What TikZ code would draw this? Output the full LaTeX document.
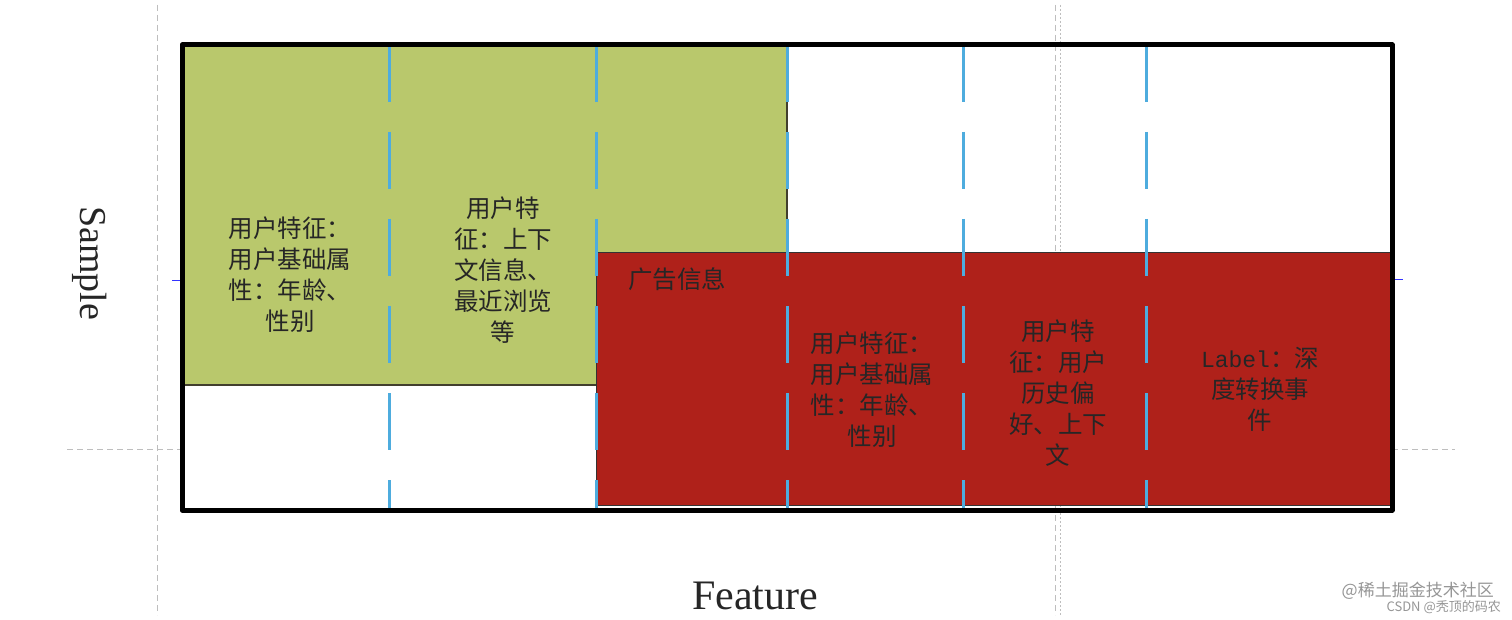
\documentclass[tikz,border=0pt]{standalone}
\usepackage{fontspec}
\setmainfont{Liberation Serif}
\setmonofont{Liberation Mono}
\newfontfamily\cjk{Noto Sans CJK SC}
\definecolor{cellgreen}{RGB}{185,200,108}
\definecolor{cellred}{RGB}{175,33,26}
\definecolor{dashblue}{RGB}{78,172,222}
\definecolor{guidegray}{RGB}{190,190,190}
\definecolor{wmgray}{RGB}{150,150,150}
\begin{document}
\begin{tikzpicture}[x=1pt,y=-1pt,
  celltext/.style={align=center,font=\cjk\fontsize{24.5}{31}\selectfont,text=black!85,inner sep=0pt},
  bluedash/.style={dashblue,line width=3pt,dash pattern=on 57pt off 30pt},
  guide/.style={guidegray,line width=0.8pt,dash pattern=on 6pt off 4pt},
  axistext/.style={text=black!85}]
\useasboundingbox (0,0) rectangle (1512,620);
\fill[white] (0,0) rectangle (1512,620);
% guides
\draw[guide] (157,5) -- (157,615);
\draw[guide] (1055,5) -- (1055,615);
\draw[guidegray,line width=0.8pt,dash pattern=on 2pt off 2pt] (1060,5) -- (1060,615);
\draw[guide] (67,449) -- (182,449);
\draw[guide] (1392,449) -- (1455,449);
\draw[blue!80,line width=0.8pt] (172,280) -- (182,280);
\draw[blue!80,line width=0.8pt] (1392,279) -- (1403,279);
% cells
\fill[cellgreen,draw=black!70!olive,line width=1.2pt] (182,45) rectangle (787,385);
\fill[cellred,draw=black!80,line width=1pt] (596,253) rectangle (1392,505);
% blue dashed separators
\foreach \xx in {389,596,787,963,1146} \draw[bluedash] (\xx,45) -- (\xx,510);
% outer frame
\draw[black,line width=5pt,line join=round] (182,45) rectangle (1392,510);
% texts
\node[celltext] (g1) at (290,275) {用户特征：\\用户基础属\\性：年龄、\\性别};
\node[celltext] (g2) at (503,270) {用户特\\征：上下\\文信息、\\最近浏览\\等};
\node[celltext,anchor=west] (ad) at (628,279) {广告信息};
\node[celltext] (r1) at (872,390) {用户特征：\\用户基础属\\性：年龄、\\性别};
\node[celltext] (r2) at (1058,393) {用户特\\征：用户\\历史偏\\好、上下\\文};
\node[celltext] (r3) at (1260,389) {{\ttfamily\fontsize{23}{31}\selectfont Label}：深\\度转换事\\件};
\node[axistext,font=\fontsize{38}{40}\selectfont,rotate=-90] (sample) at (90,263) {Sample};
\node[axistext,font=\fontsize{42}{44}\selectfont] (feature) at (755,596) {Feature};
\node[font=\cjk\fontsize{17}{19}\selectfont,text=wmgray,anchor=east,inner sep=0pt] (wm1) at (1494,591) {@稀土掘金技术社区};
\node[font=\cjk\fontsize{13}{15}\selectfont,text=wmgray,anchor=east,inner sep=0pt] (wm2) at (1501,607) {CSDN @秃顶的码农};
\end{tikzpicture}
\end{document}
